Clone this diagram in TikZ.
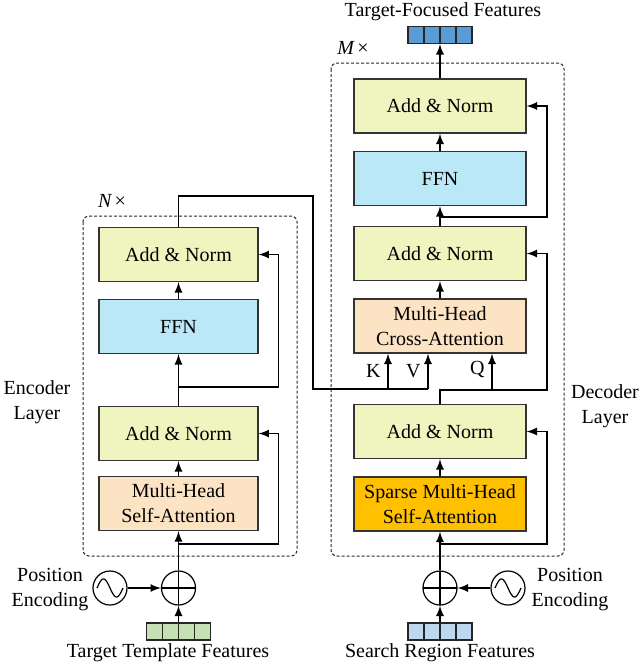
\documentclass[tikz,border=0pt]{standalone}
\usepackage{fontspec}
\setmainfont{Liberation Serif}
\usepackage{tikz}
\usetikzlibrary{arrows}

\definecolor{anfill}{RGB}{240,244,190}
\definecolor{ffnfill}{RGB}{187,232,246}
\definecolor{attfill}{RGB}{252,227,196}
\definecolor{sparsefill}{RGB}{255,192,0}
\definecolor{tgtfill}{RGB}{197,224,180}
\definecolor{srchfill}{RGB}{189,215,238}
\definecolor{outfill}{RGB}{91,155,213}

\begin{document}
\begin{tikzpicture}[x=0.5pt,y=-0.5pt,font=\fontsize{10}{12.5}\selectfont]

	\tikzstyle{block}=[draw=black!80, line width=0.6pt, minimum height=27pt, align=center, inner sep=1pt];
	\tikzstyle{addnorm}=[block, fill=anfill];
	\tikzstyle{ffn}=[block, fill=ffnfill];
	\tikzstyle{attn}=[block, fill=attfill];
	\tikzstyle{sparse}=[block, fill=sparsefill];
	\tikzstyle{conn}=[line width=0.8pt, -latex];
	\tikzstyle{wire}=[line width=0.8pt];
	\tikzstyle{layer box}=[draw=black!85, dash pattern=on 1.5pt off 1pt, line width=0.5pt, rounded corners=3pt];
	\tikzstyle{featbar}=[draw=black!85, line width=0.6pt, minimum width=32pt, minimum height=8.5pt, inner sep=0pt];
	\tikzstyle{plus}=[circle, draw, line width=0.6pt, minimum size=17pt, inner sep=0pt,
		path picture={\draw (path picture bounding box.north) -- (path picture bounding box.south)
			(path picture bounding box.west) -- (path picture bounding box.east);}];
	\tikzstyle{posenc}=[circle, draw, line width=0.6pt, minimum size=17pt, inner sep=0pt,
		path picture={\draw[shift={(path picture bounding box.center)}]
			plot[domain=-13:13, samples=40, smooth] (\x, {-9*sin((\x+13)*360/26)});}];

	\useasboundingbox (0,0) rectangle (639,666);

	% layer frames
	\draw[layer box] (83,216) rectangle (297,556);
	\draw[layer box] (331,63) rectangle (564,556);
	\node (ntimes) at (112,201) {\itshape N\,\upshape ×};
	\node (mtimes) at (353,48) {\itshape M\,\upshape ×};
	\node[align=center] (enclabel) at (37,402) {Encoder\\Layer};
	\node[align=center] (declabel) at (605,406) {Decoder\\Layer};

	% encoder
	\node[addnorm, minimum width=79.5pt] (ean2) at (178.5,254.5) {Add \& Norm};
	\node[ffn, minimum width=79.5pt] (effn) at (178.5,326.5) {FFN};
	\node[addnorm, minimum width=79.5pt] (ean1) at (178.5,433.5) {Add \& Norm};
	\node[attn, minimum width=79.5pt] (esa) at (178.5,503.5) {Multi-Head\\Self-Attention};

	\node[plus] (tgtplus) at (178.5,588) {};
	\node[posenc] (tgtpe) at (110,588) {};
	\node[align=center] (tgtpetext) at (50,590) {Position\\Encoding};
	\node[featbar, fill=tgtfill] (tgtbar) at (178.5,631.5) {};
		\foreach \i in {-1,0,1}
			\draw[line width=0.6pt, draw=black!85] ([xshift=\i*8pt]tgtbar.north) -- ([xshift=\i*8pt]tgtbar.south);
	\node (tgttext) at (168,653) {Target Template Features};

	% decoder
	\node[addnorm, minimum width=86pt] (dan3) at (440,106) {Add \& Norm};
	\node[ffn, minimum width=86pt] (dffn) at (440,178.5) {FFN};
	\node[addnorm, minimum width=86pt] (dan2) at (440,253.5) {Add \& Norm};
	\node[attn, minimum width=86pt] (dca) at (440,326) {Multi-Head\\Cross-Attention};
	\node[addnorm, minimum width=86pt] (dan1) at (440,431.5) {Add \& Norm};
	\node[sparse, minimum width=86pt] (dssa) at (440,504) {Sparse Multi-Head\\Self-Attention};

	\node[plus] (srchplus) at (440,588) {};
	\node[posenc] (srchpe) at (508,588) {};
	\node[align=center] (srchpetext) at (570,590) {Position\\Encoding};
	\node[featbar, fill=srchfill] (srchbar) at (440,631.5) {};
		\foreach \i in {-1,0,1}
			\draw[line width=0.6pt, draw=black!85] ([xshift=\i*8pt]srchbar.north) -- ([xshift=\i*8pt]srchbar.south);
	\node (srchtext) at (440,653) {Search Region Features};

	\node[featbar, fill=outfill] (outbar) at (440,35) {};
		\foreach \i in {-1,0,1}
			\draw[line width=0.6pt, draw=black!85] ([xshift=\i*8pt]outbar.north) -- ([xshift=\i*8pt]outbar.south);
	\node (outtext) at (443,12) {Target-Focused Features};

	% encoder connections
	\draw[conn] (tgtbar.north) -- (tgtplus.south);
	\draw[conn] (tgtpe.east) -- (tgtplus.west);
	\draw[conn] (tgtplus.north) -- (esa.south);
	\coordinate (eres1) at (178.5,544);
	\draw[conn] (eres1) -- ++(100,0) |- (ean1.east);
	\draw[conn] (esa.north) -- (ean1.south);
	\draw[conn] (ean1.north) -- (effn.south);
	\coordinate (eres2) at (178.5,387);
	\draw[conn] (eres2) -- ++(100,0) |- (ean2.east);
	\draw[conn] (effn.north) -- (ean2.south);

	% encoder output to K, V
	\coordinate (kin) at ([xshift=-26pt]dca.south);
	\coordinate (vin) at ([xshift=-6pt]dca.south);
	\coordinate (qin) at ([xshift=26pt]dca.south);
	\draw[wire] (ean2.north) -- ++(0,-31) -| (313,389) -- (vin |- 0,389);
	\draw[conn] (kin |- 0,389) -- (kin) node[pos=0.5, left=0pt] {K};
	\draw[conn] (vin |- 0,389) -- (vin) node[pos=0.5, left=0pt] {V};

	% decoder connections
	\draw[conn] (srchbar.north) -- (srchplus.south);
	\draw[conn] (srchpe.west) -- (srchplus.east);
	\draw[conn] (srchplus.north) -- (dssa.south);
	\coordinate (dres1) at (440,544);
	\draw[conn] (dres1) -- ++(107,0) |- (dan1.east);
	\draw[conn] (dssa.north) -- (dan1.south);
	\draw[conn] (dan1.north) -- ++(0,-14) coordinate (qy) -- ++(107,0) |- (dan2.east);
	\draw[conn] (qin |- qy) -- (qin) node[pos=0.55, left=0pt] {Q};
	\draw[conn] (dca.north) -- (dan2.south);
	\draw[conn] (dan2.north) -- (dffn.south);
	\coordinate (dres2) at (440,217);
	\draw[conn] (dres2) -- ++(107,0) |- (dan3.east);
	\draw[conn] (dffn.north) -- (dan3.south);
	\draw[conn] (dan3.north) -- (outbar.south);

\end{tikzpicture}
\end{document}
